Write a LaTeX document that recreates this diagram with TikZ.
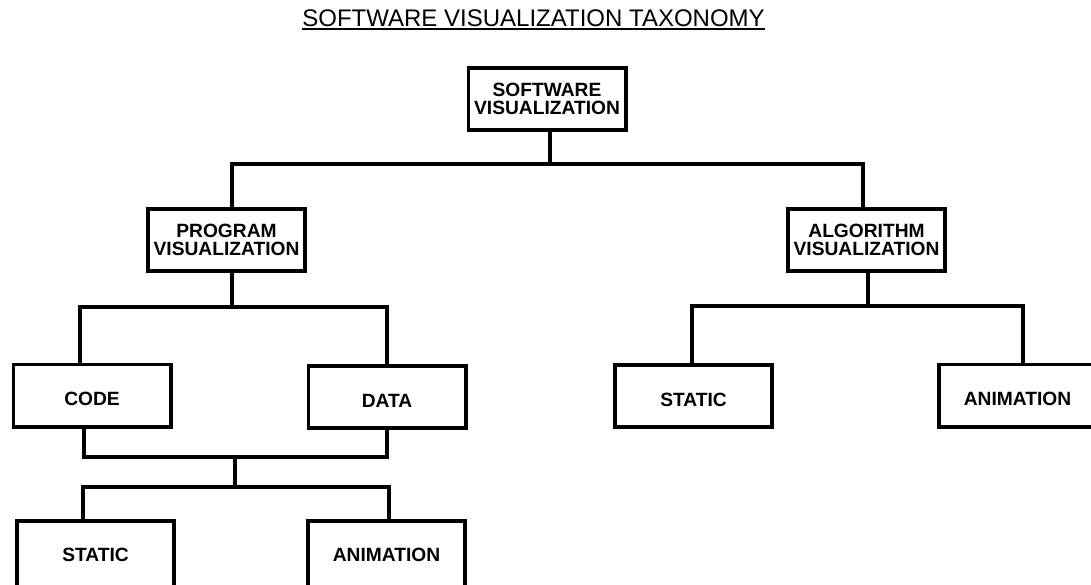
\documentclass[tikz,border=0pt]{standalone}
\usepackage{fontspec}
\setmainfont{Liberation Sans}
\begin{document}
\begin{tikzpicture}[x=1pt,y=-1pt,
  box/.style={draw, line width=3.8pt, rectangle, align=center, inner sep=0pt,
    minimum width=157.2pt, minimum height=62.2pt,
    font=\fontsize{19.2}{18.4}\selectfont\bfseries},
  single/.style={box, text height=20.8pt, text depth=0pt},
  tall/.style={box, minimum height=66.2pt, text height=14.8pt, text depth=0pt},
  link/.style={line width=3.8pt, line join=miter}]
\useasboundingbox (0,0) rectangle (1091,584);

% heading
\node[anchor=base, font=\fontsize{24}{26}\selectfont, inner sep=0pt] (title) at (533.5,26)
  {SOFTWARE VISUALIZATION TAXONOMY};
\draw[line width=1.8pt] ([yshift=-3pt]title.base west) -- ([yshift=-3pt]title.base east);

% boxes
\node[box] (sv)  at (547,99)     {SOFTWARE\\VISUALIZATION};
\node[box] (pv)  at (226.5,240)  {PROGRAM\\VISUALIZATION};
\node[box] (av)  at (866.5,240)  {ALGORITHM\\VISUALIZATION};
\node[single] (code) at (92,395.5)  {CODE};
\node[single] (data) at (387,397)   {DATA};
\node[tall] (pst) at (95.5,554)  {STATIC};
\node[tall] (pan) at (386.5,554) {ANIMATION};
\node[single] (ast) at (693.5,396)  {STATIC};
\node[single] (aan) at (1017.5,395.5) {ANIMATION};

% junctions of the bus lines
\coordinate (j1) at (550,164);
\coordinate (j2) at (232,307);
\coordinate (j3) at (868,306);
\coordinate (j4) at (235,457);
\coordinate (j5) at (235,487);

% top level
\draw[link] (sv.south -| j1) -- (j1);
\draw[link] (pv.north -| 232,0) |- (j1) -| (av.north -| 863,0);

% program visualization branch
\draw[link] (pv.south -| j2) -- (j2);
\draw[link] (code.north -| 80,0) |- (j2) -| (data.north -| 387,0);
\draw[link] (code.south -| 84,0) |- (j4) -| (data.south -| 387,0);
\draw[link] (j4) -- (j5);
\draw[link] (pst.north -| 83,0) |- (j5) -| (pan.north -| 389,0);

% algorithm visualization branch
\draw[link] (av.south -| j3) -- (j3);
\draw[link] (ast.north -| 692,0) |- (j3) -| (aan.north -| 1023,0);
\end{tikzpicture}
\end{document}
